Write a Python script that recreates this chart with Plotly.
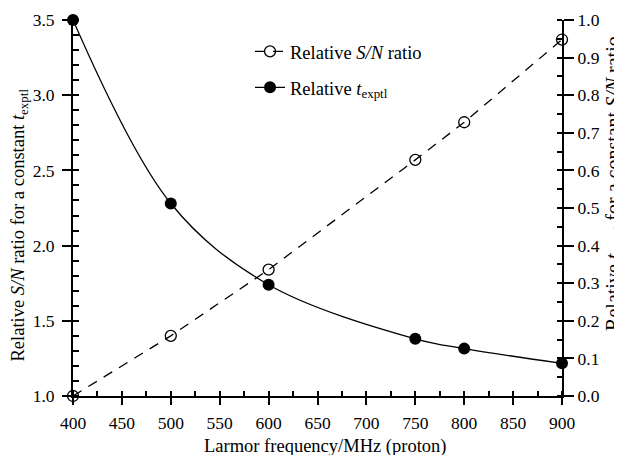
import plotly.graph_objects as go

# Data
freq = [400, 500, 600, 750, 800, 900]
sn_ratio = [1.0, 1.40, 1.84, 2.57, 2.82, 3.37]          # left axis
t_exptl = [1.0, 0.512, 0.296, 0.152, 0.126, 0.087]      # right axis

FONT = "Liberation Serif"
fig = go.Figure()

fig.add_trace(go.Scatter(
    x=freq, y=sn_ratio, xaxis="x", yaxis="y",
    mode="lines+markers",
    name="Relative <i>S/N</i> ratio",
    legendgroup="a",
    line=dict(color="black", width=1.3, dash="10px,8px"),
    marker=dict(symbol="circle-open", size=11, color="black", line=dict(width=1.3)),
    cliponaxis=False,
))
fig.add_trace(go.Scatter(
    x=freq, y=t_exptl, xaxis="x", yaxis="y2",
    mode="lines+markers",
    name="Relative <i>t</i><sub>exptl</sub>",
    legendgroup="b",
    line=dict(color="black", width=1.3, shape="spline", smoothing=1.0),
    marker=dict(symbol="circle", size=12, color="black"),
    cliponaxis=False,
))

tickfont = dict(family=FONT, size=17.5, color="black")
common = dict(showgrid=False, zeroline=False, tickcolor="black", tickfont=tickfont, automargin=False)

# page has an 8px body margin, so the figure is sized/margined to land the plot
# area at the same page pixels as the reference
fig.update_layout(
    width=614, height=447,
    margin=dict(l=65, r=60, t=12, b=59),
    paper_bgcolor="white", plot_bgcolor="white",
    font=dict(family=FONT, size=18, color="black"),
    showlegend=True,
    legend=dict(x=0.362, y=0.966, xanchor="left", yanchor="top",
                bgcolor="rgba(0,0,0,0)", tracegroupgap=9,
                font=dict(family=FONT, size=18.5, color="black")),
    xaxis=dict(range=[400, 900], tick0=400, dtick=50, ticks="outside", ticklen=7, tickwidth=2,
               ticklabelstandoff=3,
               showline=True, linecolor="black", linewidth=2,
               minor=dict(ticks="inside", dtick=25, ticklen=5, tickwidth=1.5, tickcolor="black"),
               **common),
    xaxis3=dict(range=[400, 900], overlaying="x", anchor="y", tick0=400, dtick=50,
                ticks="inside", ticklen=8, tickwidth=2, showticklabels=False, showline=False,
                **common),
    yaxis=dict(range=[1.0, 3.5], tick0=1.0, dtick=0.5, tickformat=".1f", ticks="outside",
               ticklen=9, tickwidth=2, ticklabelstandoff=4,
               showline=True, linecolor="black", linewidth=2,
               minor=dict(ticks="inside", dtick=0.1, ticklen=6, tickwidth=1.5, tickcolor="black"),
               **common),
    yaxis3=dict(range=[1.0, 3.5], overlaying="y", anchor="x", side="left", tick0=1.0, dtick=0.5,
                ticks="inside", ticklen=7, tickwidth=2, showticklabels=False, showline=False,
                **common),
    yaxis2=dict(range=[0.0, 1.0], overlaying="y", side="right", anchor="x", tick0=0, dtick=0.1,
                tickformat=".1f", ticks="outside", ticklen=10, tickwidth=2,
                showline=True, linecolor="black", linewidth=2,
                minor=dict(ticks="inside", dtick=0.05, ticklen=5, tickwidth=1.5, tickcolor="black"),
                **common),
    yaxis4=dict(range=[0.0, 1.0], overlaying="y", side="right", anchor="x", tick0=0, dtick=0.1,
                ticks="inside", ticklen=6, tickwidth=2, showticklabels=False, showline=False,
                **common),
)

# Axis titles (placed as annotations)
fig.add_annotation(text="Larmor frequency/MHz (proton)",
                   xref="paper", yref="paper", x=0.515, y=-0.133, xanchor="center", yanchor="middle",
                   showarrow=False, font=dict(family=FONT, size=18.5, color="black"))
fig.add_annotation(text="Relative <i>S/N</i> ratio for a constant <i>t</i><sub>exptl</sub>",
                   xref="paper", yref="paper", x=-0.11, y=0.454, xanchor="center", yanchor="middle",
                   textangle=-90, showarrow=False, font=dict(family=FONT, size=18.5, color="black"))
fig.add_annotation(text="Relative <i>t</i><sub>exptl</sub> for a constant <i>S/N</i> ratio",
                   xref="paper", yref="paper", x=1.107, y=0.565, xanchor="center", yanchor="middle",
                   textangle=-90, showarrow=False, font=dict(family=FONT, size=20, color="black"))

fig.write_html("out.html")
